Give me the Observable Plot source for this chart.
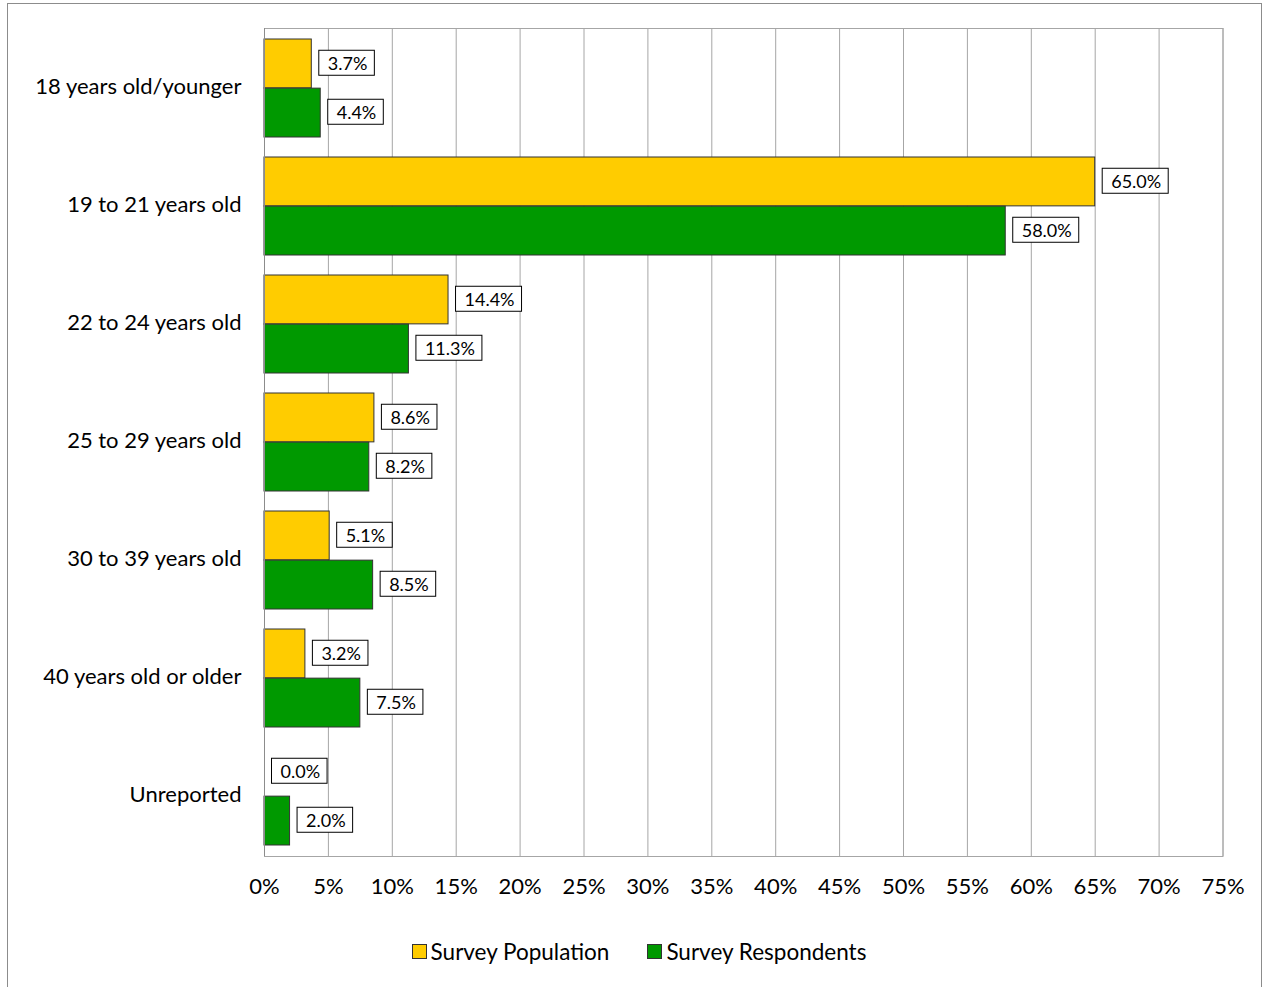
<!DOCTYPE html>
<html>
<head>
<meta charset="utf-8">
<script src="https://cdn.jsdelivr.net/npm/d3@7"></script>
<script src="https://cdn.jsdelivr.net/npm/@observablehq/plot@0.6"></script>
<style>
  body { margin: 0; background: #fff; }
  #wrap { position: relative; width: 1262px; height: 987px; overflow: hidden; font-family: Lato, "Open Sans", sans-serif; }
  #border { position: absolute; left: 7px; top: 3px; width: 1255px; height: 990px; border: 1px solid #8c8c8c; box-sizing: border-box; }
  #chart { position: absolute; left: 0; top: 0; }
  #legend { position: absolute; left: 12px; width: 1254px; top: 938px; display: flex; justify-content: center; gap: 38px; font-size: 22.5px; color: #000; }
  .item { display: flex; align-items: center; gap: 4px; }
  .sw { width: 13px; height: 13px; border: 1px solid #333; }
</style>
</head>
<body>
<div id="wrap">
  <div id="border"></div>
  <div id="chart"></div>
  <div id="legend"></div>
</div>
<script>
const categories = ["18 years old/younger", "19 to 21 years old", "22 to 24 years old", "25 to 29 years old", "30 to 39 years old", "40 years old or older", "Unreported"];
const population = [3.7, 65.0, 14.4, 8.6, 5.1, 3.2, 0.0];
const respondents = [4.4, 58.0, 11.3, 8.2, 8.5, 7.5, 2.0];
const xTicks = [0, 5, 10, 15, 20, 25, 30, 35, 40, 45, 50, 55, 60, 65, 70, 75];
const seriesNames = ["Survey Population", "Survey Respondents"];
const seriesColors = ["#FFCC00", "#009900"];

const popData = categories.map((c, i) => ({category: c, value: population[i]}));
const resData = categories.map((c, i) => ({category: c, value: respondents[i]}));

const fmt = d => d.toFixed(1) + "%";

const chart = Plot.plot({
  width: 1262,
  height: 910,
  marginLeft: 264,
  marginRight: 39.5,
  marginTop: 28,
  marginBottom: 54,
  style: {fontFamily: "Lato, 'Open Sans', sans-serif", fontSize: "22px", color: "#000", background: "transparent"},
  x: {domain: [0, 75], ticks: xTicks, tickFormat: d => d + "%"},
  y: {domain: categories, padding: 0},
  marks: [
    Plot.gridX(xTicks, {stroke: "#a6a6a6", strokeOpacity: 1}),
    Plot.frame({stroke: "#a6a6a6"}),
    Plot.rectX(popData, {x: "value", y: "category", fill: seriesColors[0], stroke: "#333", strokeWidth: 1, insetTop: 10, insetBottom: 59.14}),
    Plot.rectX(resData, {x: "value", y: "category", fill: seriesColors[1], stroke: "#333", strokeWidth: 1, insetTop: 59.14, insetBottom: 10}),
    Plot.ruleX([0], {stroke: "#8c8c8c"}),
    Plot.text(popData, {x: "value", y: "category", text: d => fmt(d.value), textAnchor: "start", dx: 16, dy: -24.5, fontSize: 18, fill: "#000"}),
    Plot.text(resData, {x: "value", y: "category", text: d => fmt(d.value), textAnchor: "start", dx: 16, dy: 24.5, fontSize: 18, fill: "#000"}),
    Plot.axisX({ticks: xTicks, tickFormat: d => d + "%", tickSize: 0, tickPadding: 22, label: null, fontSize: 22}),
    Plot.axisY({tickSize: 0, tickPadding: 23, label: null, fontSize: 22, dy: -2})
  ]
});
document.getElementById("chart").appendChild(chart);

// boxes around data labels
chart.querySelectorAll('g[aria-label="text"] text').forEach(t => {
  const b = t.getBBox();
  const r = document.createElementNS("http://www.w3.org/2000/svg", "rect");
  const h = 25;
  const cy = b.y + b.height / 2;
  r.setAttribute("x", b.x - 9);
  r.setAttribute("y", cy - h / 2);
  r.setAttribute("width", b.width + 16);
  r.setAttribute("height", h);
  r.setAttribute("fill", "#fff");
  r.setAttribute("stroke", "#000");
  r.setAttribute("stroke-width", 1);
  const tr = t.getAttribute("transform");
  if (tr) r.setAttribute("transform", tr);
  t.parentNode.insertBefore(r, t);
});

const legend = document.getElementById("legend");
seriesNames.forEach((name, i) => {
  const item = document.createElement("div");
  item.className = "item";
  const sw = document.createElement("div");
  sw.className = "sw";
  sw.style.background = seriesColors[i];
  const label = document.createElement("span");
  label.textContent = name;
  item.appendChild(sw);
  item.appendChild(label);
  legend.appendChild(item);
});
</script>
</body>
</html>
